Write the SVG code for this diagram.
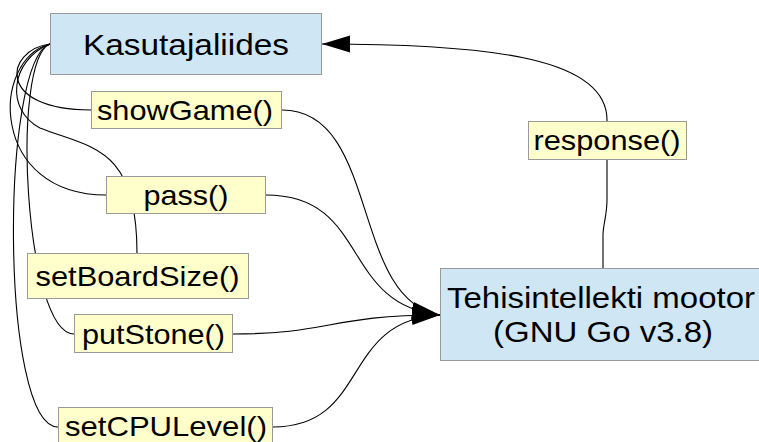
<svg xmlns="http://www.w3.org/2000/svg" width="759" height="442" viewBox="0 0 759 442">
<style>
.node{fill:#cfe7f5;stroke:#999;stroke-width:1}
.lbl{fill:#ffffcc;stroke:#999;stroke-width:1}
.t{font-family:"Liberation Sans",Arial,sans-serif;fill:#000;text-anchor:middle}
.big{font-size:30px}
.sm{font-size:28px}
.c{fill:none;stroke:#000;stroke-width:1.1}
.a{marker-end:url(#ah)}
</style>
<defs>
<marker id="ah" markerUnits="userSpaceOnUse" markerWidth="30" markerHeight="20" refX="28" refY="8.5" orient="auto" viewBox="0 0 30 20">
<path d="M0,0 L28,8.5 L0,17 z" fill="#000"/>
</marker>
</defs>
<rect width="759" height="442" fill="#fff"/>
<g id="connectors">
<path class="c" d="M50,44 C5,50 -5,110 91,110"/>
<path class="c" d="M50,44 C-10,60 -10,195 106,195"/>
<path class="c" d="M50,44 C10,60 5,110 40,128 C90,148 137,145 137,253"/>
<path class="c" d="M50,44 C10,60 25,334 74,334"/>
<path class="c" d="M50,44 C0,60 0,427 58,427"/>
<path class="c a" d="M282,110 C380,110 350,300 440,315"/>
<path class="c a" d="M266,195 C370,195 340,305 440,315"/>
<path class="c a" d="M233,334 C330,334 330,315 440,315"/>
<path class="c a" d="M273,427 C370,427 340,320 440,315"/>
<path class="c a" d="M603,268 L603,235 C603,225 607,215 607,200 L607,120 C607,60 500,44 322,44"/>
</g>
<g id="kasutajaliides">
<rect class="node" x="50.5" y="13.5" width="271" height="61"/>
<text class="t big" x="186" y="55" textLength="206" lengthAdjust="spacingAndGlyphs">Kasutajaliides</text>
</g>
<g id="tehisintellekt">
<rect class="node" x="440.5" y="268.5" width="323" height="92"/>
<text class="t big" x="601" y="308" textLength="308" lengthAdjust="spacingAndGlyphs">Tehisintellekti mootor</text>
<text class="t big" x="603" y="342" textLength="220" lengthAdjust="spacingAndGlyphs">(GNU Go v3.8)</text>
</g>
<g id="lbl-showGame">
<rect class="lbl" x="91.5" y="91.5" width="190" height="37"/>
<text class="t sm" x="185" y="120" textLength="176" lengthAdjust="spacingAndGlyphs">showGame()</text>
</g>
<g id="lbl-pass">
<rect class="lbl" x="106.5" y="176.5" width="159" height="37"/>
<text class="t sm" x="186" y="205" textLength="85" lengthAdjust="spacingAndGlyphs">pass()</text>
</g>
<g id="lbl-setBoardSize">
<rect class="lbl" x="27.5" y="253.5" width="221" height="45"/>
<text class="t sm" x="137.5" y="286" textLength="204" lengthAdjust="spacingAndGlyphs">setBoardSize()</text>
</g>
<g id="lbl-putStone">
<rect class="lbl" x="74.5" y="314.5" width="158" height="38"/>
<text class="t sm" x="153.5" y="344" textLength="143" lengthAdjust="spacingAndGlyphs">putStone()</text>
</g>
<g id="lbl-setCPULevel">
<rect class="lbl" x="58.5" y="407.5" width="214" height="38"/>
<text class="t sm" x="166" y="436" textLength="202" lengthAdjust="spacingAndGlyphs">setCPULevel()</text>
</g>
<g id="lbl-response">
<rect class="lbl" x="528.5" y="121.5" width="158" height="38"/>
<text class="t sm" x="607" y="150" textLength="147" lengthAdjust="spacingAndGlyphs">response()</text>
</g>
</svg>
